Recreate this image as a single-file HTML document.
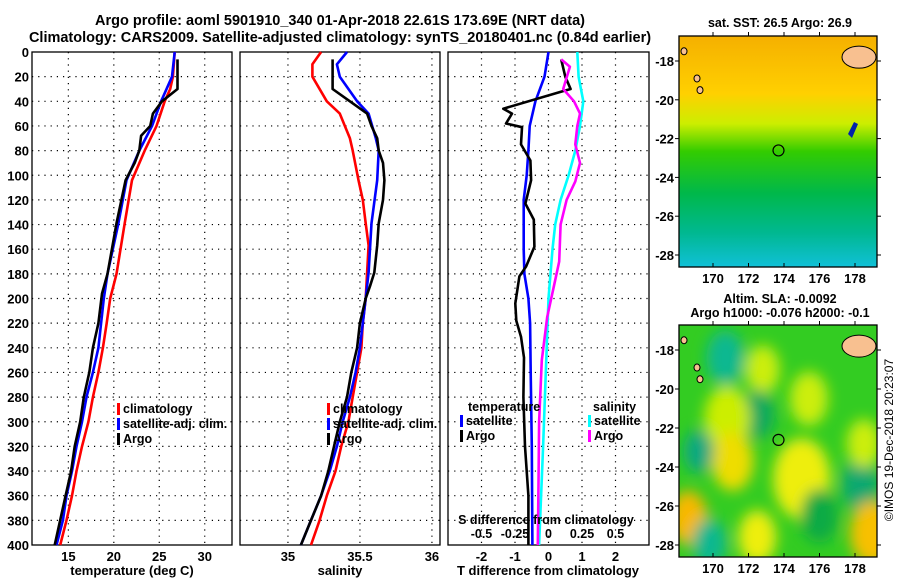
<!DOCTYPE html>
<html><head><meta charset="utf-8"><style>
body{margin:0;background:#fff}
svg{display:block;font-family:"Liberation Sans",sans-serif;font-weight:bold}
</style></head><body>
<svg id="c" width="900" height="580" viewBox="0 0 900 580">
<defs>
<linearGradient id="sstg" x1="0" y1="0" x2="0" y2="1">
<stop offset="0" stop-color="#f5b000"/><stop offset="0.25" stop-color="#ffd000"/><stop offset="0.38" stop-color="#ccee00"/><stop offset="0.5" stop-color="#33cc00"/><stop offset="0.68" stop-color="#00b84a"/><stop offset="0.85" stop-color="#00b890"/><stop offset="1" stop-color="#10c0d8"/>
</linearGradient>
<filter id="bl" x="-50%" y="-50%" width="200%" height="200%"><feGaussianBlur stdDeviation="7"/></filter>
<clipPath id="m1c"><rect x="679" y="36" width="198" height="231"/></clipPath>
<clipPath id="m2c"><rect x="679" y="325" width="198" height="232"/></clipPath>
</defs>
<text x="340" y="25" font-size="14.5" text-anchor="middle">Argo profile: aoml 5901910_340 01-Apr-2018 22.61S 173.69E (NRT data)</text>
<text x="340" y="42" font-size="14.5" text-anchor="middle">Climatology: CARS2009. Satellite-adjusted climatology: synTS_20180401.nc (0.84d earlier)</text>
<g id="plots"></g>
<g id="maps"></g>
<text transform="translate(893,440) rotate(-90)" font-size="12" font-weight="normal" text-anchor="middle">©IMOS 19-Dec-2018 20:23:07</text>
</svg>
<script>
// ---- data ----
const depthTicks=[0,20,40,60,80,100,120,140,160,180,200,220,240,260,280,300,320,340,360,380,400];
const tTicks=[15,20,25,30];
const sTicks=[35,35.5,36];
const dtTicks=[-2,-1,0,1,2];
const dsTicks=[-0.5,-0.25,0,0.25,0.5];
const dsTickLabels=["-0.5","-0.25","0","0.25","0.5"];
const climTD=[0,20,30,40,60,80,104,139,180,200,221,240,260,280,300,320,340,360,380,400];
const climT=[26.7,26.5,26.2,25.6,24.7,23.4,22.0,21.2,20.3,19.6,19.2,18.8,18.3,17.7,17.2,16.5,15.9,15.4,14.8,14.1];
const satTD=[0,20,40,60,80,104,139,180,200,240,260,280,300,320,340,360,380,400];
const satT=[26.7,26.4,25.2,24.2,22.8,21.4,20.5,19.3,18.9,18.3,17.7,17.0,16.5,15.9,15.4,14.8,14.4,13.7];
const argoTD=[6,30,40,50,60,68,80,90,104,139,180,196,220,240,260,280,300,320,340,360,400];
const argoT=[27.0,27.0,25.3,24.3,24.0,23.0,22.8,22.3,21.3,20.3,19.3,18.7,18.3,17.7,17.3,16.7,16.3,15.7,15.3,14.7,13.5];
const climSD=[0,10,20,40,50,70,80,104,120,139,157,179,200,220,240,260,280,300,320,340,360,380,400];
const climS=[35.23,35.17,35.17,35.27,35.36,35.43,35.45,35.49,35.52,35.54,35.56,35.55,35.54,35.52,35.51,35.48,35.45,35.42,35.37,35.33,35.27,35.22,35.16];
const satSD=[0,10,20,40,50,70,80,104,139,179,200,220,240,260,280,300,320,340,360,380,400];
const satS=[35.41,35.34,35.36,35.48,35.56,35.61,35.63,35.62,35.58,35.56,35.54,35.52,35.5,35.47,35.43,35.38,35.34,35.29,35.23,35.16,35.09];
const argoSD=[6,30,40,50,60,70,80,90,104,120,139,157,179,190,200,220,240,260,280,300,320,340,360,380,400];
const argoS=[35.31,35.31,35.43,35.55,35.58,35.62,35.63,35.66,35.67,35.66,35.63,35.62,35.6,35.57,35.54,35.5,35.48,35.44,35.41,35.36,35.32,35.28,35.23,35.16,35.09];
const dSatTD=[0,20,40,60,80,100,120,160,180,200,220,260,320,400];
const dSatT=[0,-0.12,-0.39,-0.56,-0.6,-0.65,-0.74,-0.74,-0.72,-0.6,-0.55,-0.53,-0.5,-0.48];
const dArgoTD=[6,20,30,32,46,50,58,61,75,88,104,123,136,158,174,182,204,218,231,248,280,320,360,400];
const dArgoT=[0.38,0.5,0.66,0.41,-1.35,-1.09,-1.27,-0.79,-0.82,-0.54,-0.52,-0.69,-0.44,-0.42,-0.67,-0.87,-0.99,-0.96,-0.82,-0.73,-0.75,-0.7,-0.6,-0.6];
const dSatSD=[0,20,40,60,80,100,120,140,160,200,260,320,400];
const dSatS=[0.215,0.225,0.26,0.235,0.2,0.15,0.09,0.05,0.03,0.0,-0.02,-0.04,-0.07];
const dArgoSD=[6,12,30,40,50,60,75,90,105,120,140,170,190,215,250,300,350,400];
const dArgoS=[0.095,0.16,0.11,0.19,0.235,0.215,0.2,0.235,0.2,0.135,0.09,0.08,0.04,-0.01,-0.05,-0.07,-0.075,-0.08];

const NS='http://www.w3.org/2000/svg';
const P=document.getElementById('plots');
function el(t,a,parent){const e=document.createElementNS(NS,t);for(const k in a)e.setAttribute(k,a[k]);(parent||P).appendChild(e);return e;}
const Y0=52,Y1=545;
const yD=d=>Y0+(d/400)*(Y1-Y0);
function panel(name,x0,x1,vmin,vmax,xt,xtl,leftLabels){
  const g=el('g',{});
  
  
  const xf=v=>x0+(v-vmin)/(vmax-vmin)*(x1-x0);
  depthTicks.forEach(d=>{
    if(d>0&&d<400){const l=el('line',{x1:x0,x2:x1,y1:yD(d),y2:yD(d),stroke:'#000','stroke-width':1.2,'stroke-dasharray':'1.2 5'},g);
    
    }
    if(leftLabels){const t=el('text',{x:x0-3,y:yD(d)+5,'font-size':13,'text-anchor':'end'},g);t.textContent=d;
    
    }
  });
  xt.forEach((v,i)=>{
    const l=el('line',{x1:xf(v),x2:xf(v),y1:Y0,y2:Y1,stroke:'#000','stroke-width':1.2,'stroke-dasharray':'1.2 5'},g);
    
    
    if(xtl){const t=el('text',{x:xf(v),y:Y1+16,'font-size':13,'text-anchor':'middle'},g);t.textContent=xtl[i];
    
    }
  });
  const r=el('rect',{x:x0,y:Y0,width:x1-x0,height:Y1-Y0,fill:'none',stroke:'#000','stroke-width':1.3},g);
  
  
  return {g,xf};
}
function line(pn,xf,ds,vs,col,name,scale){
  const pts=ds.map((d,i)=>xf(vs[i]*(scale||1)).toFixed(1)+','+yD(d).toFixed(1)).join(' ');
  const p=el('polyline',{points:pts,fill:'none',stroke:col,'stroke-width':2.6,'stroke-linejoin':'round'},pn.g);
  
  
}
function txt(g,x,y,s,name,anchor,size){const t=el('text',{x,y,'font-size':size||12.5,'text-anchor':anchor||'start'},g);t.textContent=s;
  
  return t;}
function leg(g,x,y,col,label,name){
  const b=el('rect',{x:x,y:y-10,width:3,height:12,fill:col},g);
  
  
  txt(g,x+6,y,label,name);
}
const p1=panel('temperature-panel',32,232,11,33,tTicks,tTicks.map(String),true);
line(p1,p1.xf,climTD,climT,'#ff0000','climatology-temperature-line');
line(p1,p1.xf,satTD,satT,'#0000ff','satellite-temperature-line');
line(p1,p1.xf,argoTD,argoT,'#000000','argo-temperature-line');
txt(p1.g,132,575,'temperature (deg C)','x-axis-title-temperature','middle',13);
leg(p1.g,117,413,'#ff0000','climatology','legend-climatology');
leg(p1.g,117,428,'#0000ff','satellite-adj. clim.','legend-satellite');
leg(p1.g,117,443,'#000000','Argo','legend-argo');
const p2=panel('salinity-panel',240,440,34.667,36.056,sTicks,sTicks.map(String),false);
line(p2,p2.xf,climSD,climS,'#ff0000','climatology-salinity-line');
line(p2,p2.xf,satSD,satS,'#0000ff','satellite-salinity-line');
line(p2,p2.xf,argoSD,argoS,'#000000','argo-salinity-line');
txt(p2.g,340,575,'salinity','x-axis-title-salinity','middle',13);
leg(p2.g,327,413,'#ff0000','climatology','legend-climatology-s');
leg(p2.g,327,428,'#0000ff','satellite-adj. clim.','legend-satellite-s');
leg(p2.g,327,443,'#000000','Argo','legend-argo-s');
const p3=panel('difference-panel',448,649,-3,3,dtTicks,dtTicks.map(String),false);
line(p3,p3.xf,dSatTD,dSatT,'#0000ff','satellite-temperature-diff-line');
line(p3,p3.xf,dArgoTD,dArgoT,'#000000','argo-temperature-diff-line');
line(p3,p3.xf,dSatSD,dSatS,'#00ffff','satellite-salinity-diff-line',4);
line(p3,p3.xf,dArgoSD,dArgoS,'#ff00ff','argo-salinity-diff-line',4);
txt(p3.g,548,575,'T difference from climatology','x-axis-title-tdiff','middle',13);
txt(p3.g,546,524,'S difference from climatology','s-diff-title','middle',12.5);
dsTicks.forEach((v,i)=>txt(p3.g,p3.xf(v*4),538,dsTickLabels[i],'s-diff-tick-label','middle',12.5));
txt(p3.g,468,411,'temperature','legend-temperature-header');
leg(p3.g,460,425,'#0000ff','satellite','legend-t-satellite');
leg(p3.g,460,440,'#000000','Argo','legend-t-argo');
txt(p3.g,593,411,'salinity','legend-salinity-header');
leg(p3.g,588,425,'#00ffff','satellite','legend-s-satellite');
leg(p3.g,588,440,'#ff00ff','Argo','legend-s-argo');

// ---- maps ----
const lonTicks=[170,172,174,176,178];
const latTicks=[-18,-20,-22,-24,-26,-28];
const argoLon=173.69, argoLat=-22.61;
const blobLon=[170.7,172.8,175.4,172.5,170.8,171.1,169.2,175.0,178.3,168.6,179.0,172.5,169.8,178.5,176.0];
const blobLat=[-18.4,-19.0,-20.5,-21.3,-21.5,-23.7,-23.2,-24.6,-24.9,-26.6,-27.4,-27.6,-27.9,-22.8,-26.5];
const blobSize=[1.0,0.9,1.0,0.9,1.2,1.1,0.8,1.5,1.0,1.0,1.2,1.0,0.9,0.9,1.0];
const blobCol=['#10b890','#ccee10','#ccee10','#10a860','#ccee00','#eedd00','#10a880','#eeee10','#10a870','#f8b800','#f8c000','#eeee10','#10b890','#ccee10','#11aa44'];
const M=document.getElementById('maps');
function mel(t,a,parent){const e=document.createElementNS(NS,t);for(const k in a)e.setAttribute(k,a[k]);(parent||M).appendChild(e);return e;}
function map(name,top,bottom,title1,title2,sla){
  const g=mel('g',{});
  
  
  const xl=lon=>713+(lon-170)*17.75;
  const yl=lat=>top+25+(-18-lat)*(bottom-top-37)/10;
  const c=mel('g',{'clip-path':'url(#'+(sla?'m2c':'m1c')+')'},g);
  if(!sla){
    mel('rect',{x:679,y:top,width:198,height:bottom-top,fill:'url(#sstg)'},c);
    const hs=mel('path',{d:'M848 134 l6 -12 l4 2 l-6 14 z',fill:'#0022aa'},c);
    
    
  } else {
    mel('rect',{x:679,y:top,width:198,height:bottom-top,fill:'#33cc22'},c);
    const bg=mel('g',{filter:'url(#bl)'},c);
    blobLon.forEach((lo,i)=>{
      const e=mel('ellipse',{cx:xl(lo),cy:yl(blobLat[i]),rx:blobSize[i]*19,ry:blobSize[i]*27,fill:blobCol[i]},bg);
      
      
    });
  }
  const isl=mel('ellipse',{cx:859,cy:yl(-17.8),rx:17,ry:11,fill:'#f8c090',stroke:'#000','stroke-width':1},c);
  
  
  [[697,-18.9],[700,-19.5],[684,-17.5]].forEach(p=>{const s=mel('ellipse',{cx:p[0],cy:yl(p[1]),rx:3,ry:3.5,fill:'#f8c090',stroke:'#000','stroke-width':1},c);
    
    });
  const m=mel('circle',{cx:xl(argoLon),cy:yl(argoLat),r:5.5,fill:'none',stroke:'#000','stroke-width':1.2},g);
  
  
  const fr=mel('rect',{x:679,y:top,width:198,height:bottom-top,fill:'none',stroke:'#000','stroke-width':1.3},g);
  
  
  lonTicks.forEach(lo=>{
    mel('line',{x1:xl(lo),x2:xl(lo),y1:bottom,y2:bottom-4,stroke:'#000'},g);
    mel('line',{x1:xl(lo),x2:xl(lo),y1:top,y2:top-4,stroke:'#000'},g);
    const t=mel('text',{x:xl(lo),y:bottom+16,'font-size':13,'text-anchor':'middle'},g);t.textContent=lo;
    
    
  });
  latTicks.forEach(la=>{
    mel('line',{x1:877,x2:881,y1:yl(la),y2:yl(la),stroke:'#000'},g);
    mel('line',{x1:679,x2:675,y1:yl(la),y2:yl(la),stroke:'#000'},g);
    const t=mel('text',{x:674,y:yl(la)+5,'font-size':13,'text-anchor':'end'},g);t.textContent=la;
    
    
  });
  const t1=mel('text',{x:780,y:title2?top-22:top-9,'font-size':12.5,'text-anchor':'middle'},g);t1.textContent=title1;
  
  
  if(title2){const t2=mel('text',{x:780,y:top-8,'font-size':12.5,'text-anchor':'middle'},g);t2.textContent=title2;
  
  }
}
map('sst-map',36,267,'sat. SST: 26.5 Argo: 26.9',null,false);
map('sla-map',325,557,'Altim. SLA: -0.0092','Argo h1000: -0.076 h2000: -0.1',true);
</script>
</body></html>
